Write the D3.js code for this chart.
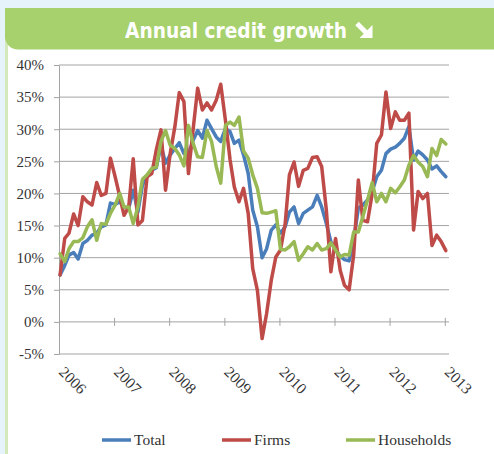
<!DOCTYPE html>
<html>
<head>
<meta charset="utf-8">
<script src="https://cdn.jsdelivr.net/npm/d3@7"></script>
<style>
html, body { margin: 0; padding: 0; background: #e7f3fa; }
svg { display: block; }
</style>
</head>
<body>
<div id="chart"></div>
<script>
// data, monthly from Jan 2006 to Jan 2013 (% growth, year on year)
var startYear = 2006;
var yearLabels = ["2006", "2007", "2008", "2009", "2010", "2011", "2012", "2013"];
var yTicks = [-5, 0, 5, 10, 15, 20, 25, 30, 35, 40];
var seriesNames = ["Total", "Firms", "Households"];

var total = [7.3, 8.8, 10.4, 10.8, 9.8, 12.2, 12.7, 13.5, 13.8, 14.8,
    15.1, 18.5, 18.3, 18.7, 17.9, 17.7, 20.5, 17.1, 21.3, 22.6,
    23.6, 24.0, 27.5, 24.7, 26.0, 27.0, 27.9, 26.2, 26.0, 28.3,
    29.8, 28.6, 31.4, 30.1, 28.8, 28.1, 30.1, 29.6, 27.8, 28.3,
    26.0, 23.1, 17.4, 14.8, 10.0, 11.4, 14.3, 15.1, 13.8, 14.8,
    17.1, 17.9, 15.3, 16.9, 17.4, 17.9, 19.7, 17.9, 15.3, 12.5,
    11.2, 10.2, 9.7, 9.5, 12.7, 17.7, 18.2, 19.0, 20.3, 22.6,
    23.6, 26.2, 26.9, 27.2, 27.8, 28.6, 30.4, 25.2, 26.6, 26.0,
    25.2, 23.8, 24.3, 23.4, 22.6];

var firms = [7.3, 13.0, 13.8, 16.8, 15.0, 19.5, 18.7, 18.2, 21.7, 19.7,
    20.0, 25.5, 22.6, 19.5, 16.6, 17.9, 25.4, 15.1, 15.8, 22.6,
    23.1, 26.8, 29.9, 20.5, 26.2, 30.4, 35.7, 34.3, 23.1, 30.0,
    36.4, 33.0, 34.1, 33.0, 34.5, 37.0, 31.4, 25.2, 21.0, 18.7,
    20.8, 16.9, 8.3, 4.9, -2.6, 1.3, 6.5, 10.1, 11.2, 15.3,
    22.9, 24.9, 21.1, 23.6, 23.9, 25.6, 25.7, 24.2, 17.4, 7.8,
    13.0, 8.0, 5.7, 5.0, 10.4, 22.1, 15.8, 15.6, 20.0, 27.8,
    29.1, 35.8, 30.1, 32.7, 31.4, 31.4, 32.5, 14.3, 20.3, 19.2,
    20.0, 11.9, 13.5, 12.5, 11.1];

var households = [10.6, 9.4, 11.4, 12.5, 12.5, 13.1, 14.8, 15.9, 12.7, 15.3,
    15.2, 16.9, 18.2, 20.0, 17.9, 17.9, 15.3, 17.9, 22.2, 22.9,
    23.9, 24.1, 28.1, 29.8, 27.5, 27.0, 26.0, 24.3, 30.6, 27.8,
    25.7, 25.6, 29.8, 28.1, 24.2, 21.6, 30.6, 31.1, 30.6, 31.9,
    26.6, 25.5, 22.9, 20.8, 17.0, 16.9, 17.1, 17.3, 11.3, 11.2,
    11.7, 12.5, 9.6, 10.6, 11.7, 11.2, 12.2, 11.2, 11.4, 12.3,
    11.2, 10.1, 10.5, 10.4, 14.0, 14.0, 16.4, 19.0, 21.7, 18.7,
    20.0, 18.7, 20.8, 20.1, 21.0, 22.1, 24.4, 25.9, 24.9, 24.2,
    22.6, 27.0, 25.9, 28.4, 27.7];

var seriesColors = ["#4a7ebb", "#be4b48", "#98b954"];
var legendX = [102, 222, 346];

var width = 494, height = 454;
var serif = "'Liberation Serif', 'Times New Roman', serif";

var svg = d3.select("#chart").append("svg")
    .attr("width", width)
    .attr("height", height);

// page background, panel, left strip
svg.append("rect").attr("width", width).attr("height", height).attr("fill", "#e7f3fa");
svg.append("rect").attr("x", 5).attr("y", 30).attr("width", 3).attr("height", height - 30).attr("fill", "#d3e8bb");
svg.append("rect").attr("x", 8).attr("y", 30).attr("width", width - 8).attr("height", height - 30).attr("fill", "#ffffff");

// green title bar, rounded bottom left corner
var r = 13;
svg.append("path")
    .attr("d", "M5,8 H" + width + " V49.5 H" + (5 + r) + " A" + r + "," + r + " 0 0 1 5," + (49.5 - r) + " Z")
    .attr("fill", "#a6d16c");

// title squeezed into the width it has in the picture
svg.append("text")
    .attr("x", 125)
    .attr("y", 37.5)
    .attr("fill", "#ffffff")
    .attr("textLength", 222)
    .attr("lengthAdjust", "spacingAndGlyphs")
    .style("font-family", "'DejaVu Sans Condensed', 'Liberation Sans Narrow', sans-serif")
    .style("font-weight", "bold")
    .style("font-stretch", "condensed")
    .style("font-size", "21px")
    .text("Annual credit growth");

// arrow icon next to the title
svg.append("line")
    .attr("x1", 357).attr("y1", 23.5).attr("x2", 366).attr("y2", 32.5)
    .attr("stroke", "#ffffff").attr("stroke-width", 5);
svg.append("path")
    .attr("d", "M372.5,38 L372.5,25 L359.5,38 Z")
    .attr("fill", "#ffffff");

// scales
var months = total.map(function(d, i) { return new Date(startYear, i, 8); });
var yearDates = yearLabels.map(function(d) { return new Date(+d, 0, 1); });

var x = d3.scaleTime()
    .domain([yearDates[0], yearDates[yearDates.length - 1]])
    .range([59, 444.8]);
var y = d3.scaleLinear()
    .domain([-5, 40])
    .range([354, 65]);

// gridlines
svg.append("g")
    .selectAll("line")
    .data(yTicks)
    .enter()
    .append("line")
    .attr("x1", 59).attr("x2", 449)
    .attr("y1", function(d) { return y(d); })
    .attr("y2", function(d) { return y(d); })
    .attr("stroke", "#a3a3a3")
    .attr("stroke-width", 1);

// y axis
var yAxis = svg.append("g")
    .attr("transform", "translate(59,0)")
    .call(d3.axisLeft(y).tickValues(yTicks).tickSizeInner(5).tickSizeOuter(0).tickPadding(10)
        .tickFormat(function(d) { return d + "%"; }));
yAxis.select(".domain").attr("stroke", "#a3a3a3");
yAxis.selectAll(".tick line").attr("stroke", "#a3a3a3");
yAxis.selectAll(".tick text")
    .attr("fill", "#333333")
    .style("font-family", serif)
    .style("font-size", "15px");

// x axis on the 0% line, ticks crossing it
var xAxis = svg.append("g")
    .attr("transform", "translate(0," + y(0) + ")")
    .call(d3.axisBottom(x).tickValues(yearDates.slice(1)).tickSizeInner(4).tickSizeOuter(0)
        .tickFormat(""));
xAxis.select(".domain").remove();
xAxis.selectAll(".tick line").attr("y1", -4).attr("stroke", "#a3a3a3");

// year labels, slanted, under the plot
svg.append("g")
    .selectAll("text")
    .data(yearLabels)
    .enter()
    .append("text")
    .attr("transform", function(d, i) { return "translate(" + (x(yearDates[i]) - 1) + ",373) rotate(45)"; })
    .attr("fill", "#333333")
    .style("font-family", serif)
    .style("font-size", "15.5px")
    .text(function(d) { return d; });

// series
var line = d3.line()
    .x(function(d, i) { return x(months[i]); })
    .y(function(d) { return y(d); });

[total, firms, households].forEach(function(s, k) {
    svg.append("path")
        .datum(s)
        .attr("d", line)
        .attr("fill", "none")
        .attr("stroke", seriesColors[k])
        .attr("stroke-width", 3.5)
        .attr("stroke-linejoin", "round")
        .attr("stroke-linecap", "round");
});

// legend
var lg = svg.append("g")
    .selectAll("g")
    .data(seriesNames)
    .enter()
    .append("g")
    .attr("transform", function(d, i) { return "translate(" + legendX[i] + ",440)"; });
lg.append("line")
    .attr("x1", 0).attr("x2", 29)
    .attr("stroke", function(d, i) { return seriesColors[i]; })
    .attr("stroke-width", 3.5);
lg.append("text")
    .attr("x", 32)
    .attr("y", 5)
    .attr("fill", "#333333")
    .style("font-family", serif)
    .style("font-size", "15.5px")
    .text(function(d) { return d; });
</script>
</body>
</html>
